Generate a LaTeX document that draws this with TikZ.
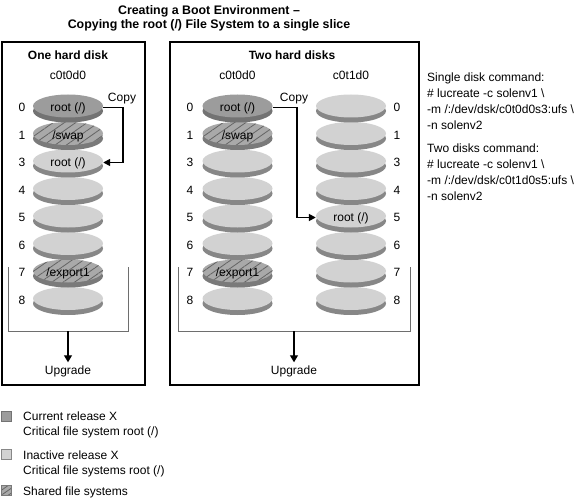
\documentclass[tikz,border=0pt]{standalone}
\usepackage{fontspec}
\setmainfont{Liberation Sans}
\usetikzlibrary{shapes.geometric,shadows,patterns.meta,arrows.meta}
\definecolor{curface}{HTML}{9C9C9C}
\definecolor{currim}{HTML}{737373}
\definecolor{inface}{HTML}{D2D2D2}
\definecolor{inrim}{HTML}{878787}
\definecolor{shface}{HTML}{A9A9A9}
\definecolor{shline}{HTML}{646464}
\definecolor{shrim}{HTML}{7A7A7A}
\definecolor{brackcol}{HTML}{6E6E6E}
\begin{document}
\begin{tikzpicture}[x=1bp,y=-1bp,
  every node/.style={font=\fontsize{12bp}{14bp}\selectfont},
  boldtxt/.style={font=\fontsize{12bp}{14bp}\selectfont\bfseries, anchor=base, inner sep=0pt},
  titletxt/.style={font=\fontsize{12.4bp}{14bp}\selectfont\bfseries, anchor=base, inner sep=0pt},
  disk/.style={ellipse, minimum width=70bp, minimum height=23bp, inner sep=0pt, text height=11.6bp, text depth=0pt},
  curdisk/.style={disk, drop shadow={shadow xshift=0bp, shadow yshift=-5bp, fill=currim, opacity=1}, fill=curface},
  indisk/.style={disk, drop shadow={shadow xshift=0bp, shadow yshift=-5bp, fill=inrim, opacity=1}, fill=inface},
  shdisk/.style={disk, drop shadow={shadow xshift=0bp, shadow yshift=-5bp, fill=shrim, opacity=1}, preaction={fill=shface}, pattern={Lines[angle=35,distance=6.5bp,line width=0.8bp]}, pattern color=shline},
  txt/.style={anchor=base, inner sep=0pt},
  ltxt/.style={anchor=base west, inner sep=0pt},
  uptxt/.style={anchor=base},
  boxline/.style={draw=black, line width=1.5bp},
  brk/.style={draw=brackcol, line width=1bp},
  cparrow/.style={draw=black, line width=1.6bp, -{Triangle[length=7bp,width=7bp]}},
  dnarrow/.style={draw=black, line width=1.1bp, -{Triangle[length=7bp,width=8bp]}},
  legsq/.style={rectangle, minimum size=10bp, inner sep=0pt, line width=0.8bp},
]
\useasboundingbox (0,0) rectangle (578,501);

% title
\node[titletxt] (t1) at (209,14.3) {Creating a Boot Environment –};
\node[titletxt] (t2) at (209,28.3) {Copying the root (/) File System to a single slice};

% boxes
\draw[boxline] (2,42) rectangle (145,385);
\draw[boxline] (170,42) rectangle (419,385);

\node[boldtxt] (h1) at (68,59.5) {One hard disk};
\node[txt] (c1) at (68,80) {c0t0d0};
\node[boldtxt] (h2) at (292,59.5) {Two hard disks};
\node[txt] (c2) at (237.5,80) {c0t0d0};
\node[txt] (c3) at (351,80) {c0t1d0};

% brackets
\draw[brk] (8,267) |- (128,331) -- (128,267);
\draw[brk] (178,267) |- (410,331) -- (410,267);

% left box disks
\node[indisk] (L8) at (68,298.5) {};
\node[shdisk] (L7) at (68,271) {/export1};
\node[indisk] (L6) at (68,243.5) {};
\node[indisk] (L5) at (68,216) {};
\node[indisk] (L4) at (68,188.5) {};
\node[indisk] (L3) at (68,161) {root (/)};
\node[shdisk] (L1) at (68,133.5) {/swap};
\node[curdisk] (L0) at (68,106) {root (/)};

% right box, first disk
\node[indisk] (A8) at (237.5,298.5) {};
\node[shdisk] (A7) at (237.5,271) {/export1};
\node[indisk] (A6) at (237.5,243.5) {};
\node[indisk] (A5) at (237.5,216) {};
\node[indisk] (A4) at (237.5,188.5) {};
\node[indisk] (A3) at (237.5,161) {};
\node[shdisk] (A1) at (237.5,133.5) {/swap};
\node[curdisk] (A0) at (237.5,106) {root (/)};

% right box, second disk
\node[indisk] (B8) at (351,298.5) {};
\node[indisk] (B7) at (351,271) {};
\node[indisk] (B6) at (351,243.5) {};
\node[indisk] (B5) at (351,216) {root (/)};
\node[indisk] (B4) at (351,188.5) {};
\node[indisk] (B3) at (351,161) {};
\node[indisk] (B1) at (351,133.5) {};
\node[indisk] (B0) at (351,106) {};

% slice numbers
\foreach \s/\y in {0/111.8,1/139.3,3/166.8,4/194.3,5/221.8,6/249.3,7/276.8,8/304.3}{
  \node[txt] (nl\s) at (22,\y) {\s};
  \node[txt] (na\s) at (190,\y) {\s};
  \node[txt] (nb\s) at (397,\y) {\s};
}

% copy arrows
\node[txt] (cp1) at (122,102) {Copy};
\node[txt] (cp2) at (294,102) {Copy};
\draw[cparrow] ([yshift=-1.5bp]L0.east) -- ++(20,0) |- ([yshift=-1.5bp]L3.east);
\draw[cparrow] ([yshift=-1.5bp]A0.east) -- ++(24,0) |- ([yshift=-1.5bp]B5.west);

% upgrade arrows
\coordinate (b1) at (68,331);
\coordinate (b2) at (294,331);
\node[uptxt] (u1) at (68,374.5) {Upgrade};
\node[uptxt] (u2) at (294,374.5) {Upgrade};
\draw[dnarrow] (b1) -- (u1.north);
\draw[dnarrow] (b2) -- (u2.north);

% commands
\node[ltxt] (m1) at (427,81.3) {Single disk command:};
\node[ltxt] (m2) at (427,97.6) {\# lucreate -c solenv1 \textbackslash};
\node[ltxt] (m3) at (427,113.8) {-m /:/dev/dsk/c0t0d0s3:ufs \textbackslash};
\node[ltxt] (m4) at (427,129.8) {-n solenv2};
\node[ltxt] (m5) at (427,152.3) {Two disks command:};
\node[ltxt] (m6) at (427,168.6) {\# lucreate -c solenv1 \textbackslash};
\node[ltxt] (m7) at (427,184.8) {-m /:/dev/dsk/c0t1d0s5:ufs \textbackslash};
\node[ltxt] (m8) at (427,200.8) {-n solenv2};

% legend
\node[legsq, fill=curface, draw=currim] (g1) at (6.7,416.5) {};
\node[legsq, fill=inface, draw=inrim] (g2) at (6.7,454.5) {};
\node[legsq, draw=shrim, preaction={fill=shface}, pattern={Lines[angle=35,distance=4bp,line width=0.8bp]}, pattern color=shline] (g3) at (6.7,490.5) {};
\node[ltxt] (e1) at (23,420.3) {Current release X};
\node[ltxt] (e2) at (23,435.8) {Critical file system root (/)};
\node[ltxt] (e3) at (23,459.3) {Inactive release X};
\node[ltxt] (e4) at (23,474.3) {Critical file systems root (/)};
\node[ltxt] (e5) at (23,495.8) {Shared file systems};
\end{tikzpicture}
\end{document}
